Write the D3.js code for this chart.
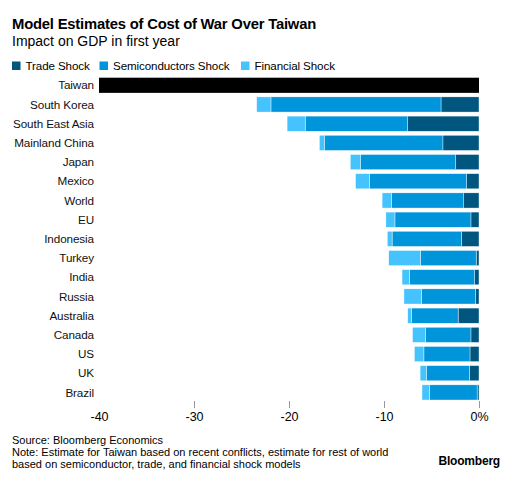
<!DOCTYPE html>
<html><head><meta charset="utf-8">
<script src="https://cdn.jsdelivr.net/npm/d3@7"></script>
<style>
body{margin:0;background:#fff;}
svg{display:block;font-family:"Liberation Sans",Arial,sans-serif;}
</style></head>
<body><svg id="c" width="516" height="480"></svg>
<script>
const categories = ["Taiwan","South Korea","South East Asia","Mainland China","Japan","Mexico","World","EU","Indonesia","Turkey","India","Russia","Australia","Canada","US","UK","Brazil"];
const taiwanTotal = [-40];
const tradeShock = [0,-4.0,-7.5,-3.8,-2.45,-1.3,-1.6,-0.85,-1.85,-0.3,-0.45,-0.4,-2.2,-0.85,-0.95,-1.0,-0.2];
const semiShock = [0,-17.9,-10.8,-12.45,-10.0,-10.25,-7.6,-8.0,-7.3,-5.85,-6.85,-5.65,-4.9,-4.75,-4.85,-4.55,-5.0];
const finShock = [0,-1.5,-1.9,-0.55,-1.1,-1.45,-1.0,-0.95,-0.5,-3.35,-0.8,-1.85,-0.4,-1.4,-1.0,-0.65,-0.8];
const seriesNames = ["Trade Shock","Semiconductors Shock","Financial Shock"];
const seriesColors = ["#00567f","#0095da","#45c3ff"];
const tickValues = [-40,-30,-20,-10,0];
const tickLabels = ["-40","-30","-20","-10","0%"];

const svg = d3.select("#c");
const x = d3.scaleLinear().domain([-40,0]).range([99,479]);
const y = d3.scaleBand().domain(categories).range([77.7,77.7+18.96*17]).paddingInner(0.21).paddingOuter(0);

// title
svg.append("text").attr("x",12).attr("y",29).attr("font-size",14.8).attr("font-weight","bold").attr("fill","#000").attr("letter-spacing","-0.2").text("Model Estimates of Cost of War Over Taiwan");
svg.append("text").attr("x",12).attr("y",46).attr("font-size",14).attr("fill","#000").text("Impact on GDP in first year");

// legend
const legX = [12,99.5,241];
seriesNames.forEach((n,i)=>{
  svg.append("rect").attr("x",legX[i]).attr("y",61.5).attr("width",8.5).attr("height",8.5).attr("fill",seriesColors[i]);
  svg.append("text").attr("x",legX[i]+13.5).attr("y",70).attr("font-size",11.6).attr("letter-spacing","-0.1").attr("fill","#000").text(n);
});

// stacked data
const rows = categories.map((c,i)=>({cat:c, vals:[tradeShock[i],semiShock[i],finShock[i]]}));
const g = svg.append("g");
rows.forEach((r,i)=>{
  if(i===0){
    g.append("rect").attr("x",x(taiwanTotal[0])).attr("y",y(r.cat)).attr("width",x(0)-x(taiwanTotal[0])).attr("height",y.bandwidth()).attr("fill","#000");
    return;
  }
  let acc=0;
  r.vals.forEach((v,k)=>{
    const x0=x(acc+v), x1=x(acc);
    g.append("rect").attr("x",x0).attr("y",y(r.cat)).attr("width",x1-x0).attr("height",y.bandwidth())
      .attr("fill",seriesColors[k]).attr("stroke","#fff").attr("stroke-width",0.4);
    acc+=v;
  });
});

// category labels
categories.forEach(c=>{
  svg.append("text").attr("x",94).attr("y",y(c)+y.bandwidth()/2+4.2).attr("text-anchor","end").attr("font-size",11.7).attr("letter-spacing","-0.1").attr("fill","#111").text(c);
});

// x axis
const axis = d3.axisBottom(x).tickValues(tickValues).tickFormat((d,i)=>tickLabels[i]).tickSize(7).tickPadding(4);
const ax = svg.append("g").attr("transform","translate(0,401)").call(axis);
ax.select(".domain").remove();
ax.selectAll(".tick line").attr("stroke","#999").attr("stroke-width",1).attr("opacity",(d)=>d===-40?0:1);
ax.selectAll(".tick text").attr("font-size",12.5).attr("fill","#000").attr("font-family","Liberation Sans,Arial,sans-serif");

// footer
svg.append("text").attr("x",12).attr("y",443.5).attr("font-size",11).attr("fill","#000").text("Source: Bloomberg Economics");
svg.append("text").attr("x",12).attr("y",455.5).attr("font-size",11).attr("fill","#000").text("Note: Estimate for Taiwan based on recent conflicts, estimate for rest of world");
svg.append("text").attr("x",12).attr("y",467.5).attr("font-size",11).attr("fill","#000").text("based on semiconductor, trade, and financial shock models");
svg.append("text").attr("x",500).attr("y",465).attr("text-anchor","end").attr("font-size",12).attr("font-weight","bold").attr("fill","#000").attr("letter-spacing","-0.2").text("Bloomberg");
</script></body></html>
